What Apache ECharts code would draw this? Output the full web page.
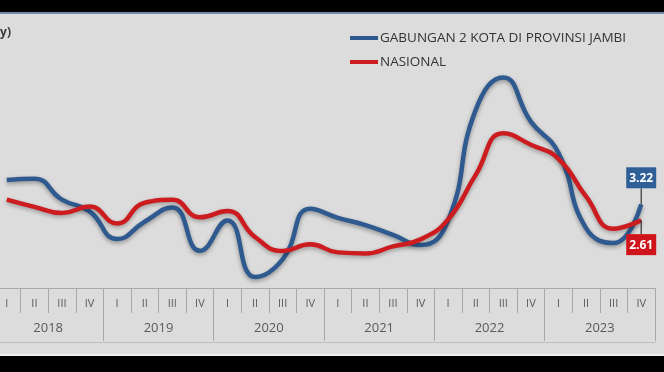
<!DOCTYPE html>
<html>
<head>
<meta charset="utf-8">
<script src="https://cdn.jsdelivr.net/npm/echarts@6/dist/echarts.min.js"></script>
<style>
html,body{margin:0;padding:0;background:#000;overflow:hidden;}
#c{position:absolute;left:-7px;top:0;width:671px;height:372px;}
</style>
</head>
<body>
<div id="c"></div>
<script>
const quarters = ['I','II','III','IV','I','II','III','IV','I','II','III','IV','I','II','III','IV','I','II','III','IV','I','II','III','IV'];
const years = ['2018','2019','2020','2021','2022','2023'];
const jambi = [4.15,4.2,3.4,2.95, 1.88,2.55,3.1,1.43, 2.6,0.42,1.1,3.05, 2.7,2.42,2.04,1.65, 2.6,6.85,8.1,6.4, 5.2,2.3,1.73,3.22];
const nasional = [3.40,3.12,2.88,3.13, 2.48,3.28,3.39,2.72, 2.96,1.96,1.42,1.68, 1.37,1.33,1.60,1.87, 2.64,4.35,5.95,5.51, 4.97,3.52,2.28,2.61];
const seriesNames = ['GABUNGAN 2 KOTA DI PROVINSI JAMBI','NASIONAL'];

const BLUE = '#2e5a90', RED = '#cc1c1f';
const FONT = "'Open Sans', 'Noto Sans', sans-serif";

function withEndLabel(arr, color, above) {
  return arr.map((v, i) => {
    if (i !== arr.length - 1) return v;
    return {
      value: v,
      symbol: 'rect',
      symbolSize: [1.2, above ? 16 : 14],
      symbolOffset: [0, above ? -8 : 7],
      itemStyle: {color: '#333333'},
      label: {
        show: true,
        position: above ? 'top' : 'bottom',
        distance: 0,
        formatter: v.toFixed(2),
        backgroundColor: color,
        color: '#ffffff',
        fontFamily: FONT,
        fontSize: 12,
        fontWeight: 'bold',
        padding: [5, 3, 4, 3]
      }
    };
  });
}

const chart = echarts.init(document.getElementById('c'), null, {renderer: 'canvas'});
const axisGray = '#a8a8a8';
chart.setOption({
  animation: false,
  backgroundColor: '#dcdcdc',
  textStyle: {fontFamily: FONT},
  grid: {left: 0, right: 9, top: 28, bottom: 84, containLabel: false},
  legend: {
    orient: 'vertical',
    left: 357,
    top: 31,
    padding: 0,
    itemWidth: 28,
    itemHeight: 4,
    itemGap: 10,
    icon: 'rect',
    data: seriesNames,
    textStyle: {color: '#333333', fontSize: 13.5, fontFamily: FONT, lineHeight: 14, padding: [0, 0, 0, -3]}
  },
  xAxis: [
    {
      type: 'category', data: quarters, boundaryGap: true,
      axisLine: {show: true, lineStyle: {color: axisGray, width: 1}},
      axisTick: {show: true, interval: 0, length: 25, lineStyle: {color: axisGray}},
      axisLabel: {interval: 0, margin: 10, fontSize: 11, color: '#5a5a5a', fontFamily: FONT}
    },
    {
      type: 'category', data: years, boundaryGap: true, position: 'bottom',
      axisLine: {show: false},
      axisTick: {show: true, interval: 0, length: 53, lineStyle: {color: axisGray}},
      axisLabel: {interval: 0, margin: 34, fontSize: 13, color: '#5a5a5a', fontFamily: FONT}
    },
    {
      type: 'category', data: quarters, position: 'bottom', offset: 54,
      axisLine: {show: true, lineStyle: {color: '#bdbdbd', width: 1}},
      axisTick: {show: false}, axisLabel: {show: false}
    }
  ],
  yAxis: {type: 'value', min: 0, max: 10, show: false, splitLine: {show: false}},
  series: [
    {
      name: seriesNames[0], type: 'line', xAxisIndex: 0, smooth: 0.5,
      data: withEndLabel(jambi, '#2f5f97', true),
      showSymbol: true, showAllSymbol: true, symbol: 'none',
      lineStyle: {color: BLUE, width: 4.5, shadowColor: 'rgba(0,0,0,0.35)', shadowBlur: 4, shadowOffsetY: 2},
      itemStyle: {color: BLUE},
      z: 2
    },
    {
      name: seriesNames[1], type: 'line', xAxisIndex: 0, smooth: 0.5,
      data: withEndLabel(nasional, '#d0141b', false),
      showSymbol: true, showAllSymbol: true, symbol: 'none',
      lineStyle: {color: RED, width: 4.5, shadowColor: 'rgba(0,0,0,0.3)', shadowBlur: 4, shadowOffsetY: 2},
      itemStyle: {color: RED},
      z: 3
    }
  ],
  graphic: [
    {type: 'rect', shape: {x: 0, y: 0, width: 680, height: 12}, style: {fill: '#000'}, z: 100},
    {type: 'rect', shape: {x: 0, y: 12, width: 680, height: 2}, style: {fill: '#7587ad'}, z: 100},
    {type: 'rect', shape: {x: 0, y: 354, width: 680, height: 2}, style: {fill: '#f0f0f0'}, z: 100},
    {type: 'rect', shape: {x: 0, y: 356, width: 680, height: 16}, style: {fill: '#000'}, z: 100},
    {type: 'text', style: {text: '(%, yoy)', x: 18, y: 33, align: 'right', verticalAlign: 'middle', fill: '#3a3a3a', font: "bold 12px 'Open Sans'"}, z: 100}
  ]
});
</script>
</body>
</html>
